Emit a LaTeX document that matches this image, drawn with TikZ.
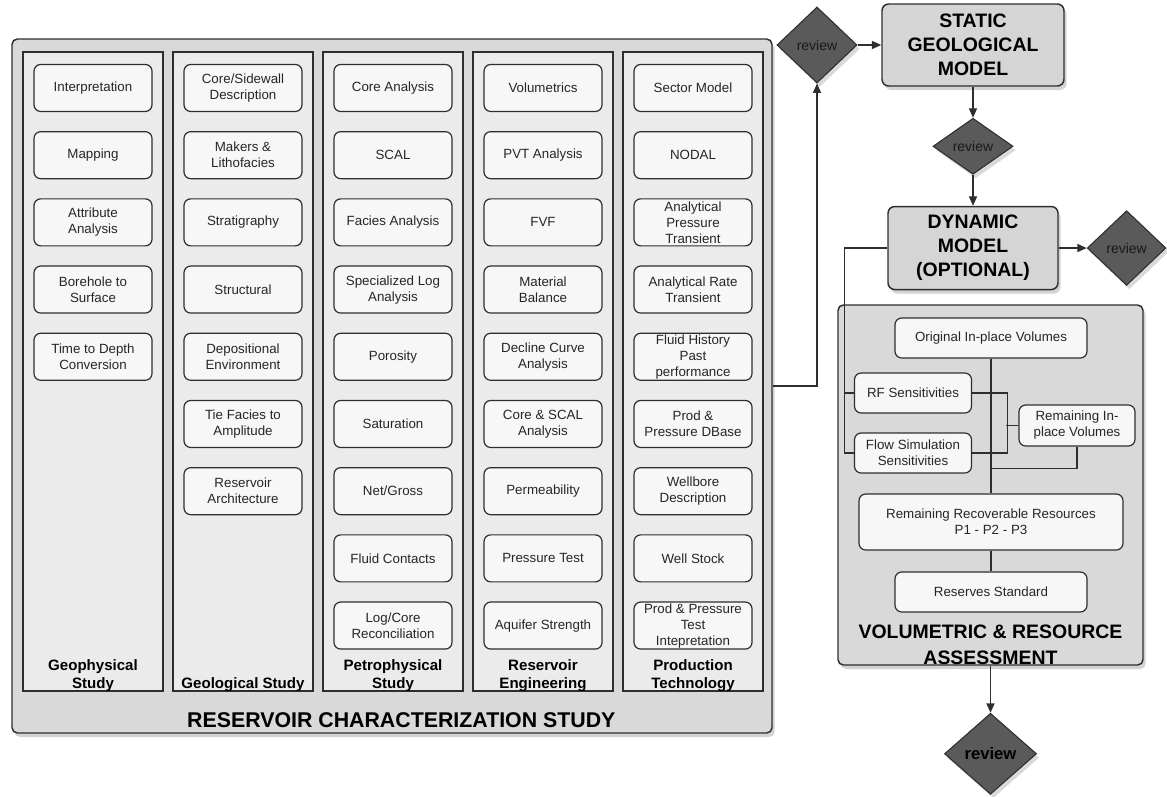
\documentclass[tikz,border=0pt]{standalone}
\usepackage{fontspec}
\setmainfont{Liberation Sans}
\usepackage{tikz}
\usetikzlibrary{arrows.meta, positioning, shapes.geometric, shadows}
\definecolor{contour}{HTML}{2E2E2E}
\definecolor{fondetude}{HTML}{D9D9D9}
\definecolor{fondcolonne}{HTML}{EBEBEB}
\definecolor{fondbloc}{HTML}{F7F7F7}
\definecolor{fondmodele}{HTML}{D5D5D5}
\definecolor{losange}{HTML}{5A5A5A}
\tikzset{
  cadre/.style={rectangle, rounded corners=4pt, draw=contour, line width=1.1pt,
    fill=fondetude, inner sep=0pt,
    drop shadow={opacity=0.35, shadow xshift=2pt, shadow yshift=-3pt}},
  colonne/.style={rectangle, draw=contour, line width=1pt, fill=fondcolonne,
    minimum width=105pt, minimum height=479.25pt, inner sep=0pt},
  bloc/.style={rectangle, rounded corners=5pt, draw=contour, line width=0.9pt,
    fill=fondbloc, text=black!85, font=\fontsize{10}{12}\selectfont,
    minimum width=88.5pt, minimum height=35.25pt, align=center,
    inner xsep=2pt, inner ysep=0pt},
  etiquette/.style={font=\fontsize{11.3}{13.5}\selectfont\bfseries,
    align=center, inner sep=0pt},
  titre/.style={font=\fontsize{14.6}{18}\selectfont\bfseries, align=center,
    inner sep=0pt},
  modele/.style={rectangle, rounded corners=5pt, draw=contour, line width=1.1pt,
    fill=fondmodele, titre,
    drop shadow={opacity=0.35, shadow xshift=2pt, shadow yshift=-3pt}},
  revue/.style={diamond, aspect=1, draw=contour, line width=0.8pt, fill=losange,
    text=black!90, font=\fontsize{10.5}{12}\selectfont, inner sep=0pt,
    drop shadow={opacity=0.3, shadow xshift=2pt, shadow yshift=-3pt}},
  fleche/.style={-{Triangle[length=7pt, width=6pt]}, line width=1pt, color=contour},
  ligne/.style={line width=1pt, color=contour},
}

\begin{document}
\begin{tikzpicture}[x=0.75pt, y=-0.75pt, node distance=14.25pt]
    \useasboundingbox (0,0) rectangle (1167,796);

    % etude de caracterisation
    \node[cadre, minimum width=570pt, minimum height=520.5pt] (etude) at (392,386) {};
    \node[titre, font=\fontsize{16}{18}\selectfont\bfseries, anchor=base]
      at ([xshift=7pt, yshift=4.5pt]etude.south) {RESERVOIR CHARACTERIZATION STUDY};

    \node[colonne] (geo) at (93,371.5) {};
    \node[colonne] (geol) at (243,371.5) {};
    \node[colonne] (petro) at (393,371.5) {};
    \node[colonne] (reseng) at (543,371.5) {};
    \node[colonne] (prodtech) at (693,371.5) {};

    \node[etiquette, anchor=south] at (geo.south) {Geophysical\\Study};
    \node[etiquette, anchor=south] at (geol.south) {Geological Study};
    \node[etiquette, anchor=south] at (petro.south) {Petrophysical\\Study};
    \node[etiquette, anchor=south] at (reseng.south) {Reservoir\\Engineering};
    \node[etiquette, anchor=south] at (prodtech.south) {Production\\Technology};

    % geophysique
    \node[bloc, below=9.4pt of geo.north] (interp) {Interpretation};
    \node[bloc, below=of interp] (mapping) {Mapping};
    \node[bloc, below=of mapping] (attrib) {Attribute\\Analysis};
    \node[bloc, below=of attrib] (borehole) {Borehole to\\Surface};
    \node[bloc, below=of borehole] (tdconv) {Time to Depth\\Conversion};

    % geologie
    \node[bloc, below=9.4pt of geol.north] (coredesc) {Core/Sidewall\\Description};
    \node[bloc, below=of coredesc] (makers) {Makers \&\\Lithofacies};
    \node[bloc, below=of makers] (strat) {Stratigraphy};
    \node[bloc, below=of strat] (struct) {Structural};
    \node[bloc, below=of struct] (depo) {Depositional\\Environment};
    \node[bloc, below=of depo] (tiefacies) {Tie Facies to\\Amplitude};
    \node[bloc, below=of tiefacies] (resarch) {Reservoir\\Architecture};

    % petrophysique
    \node[bloc, below=9.4pt of petro.north] (corean) {Core Analysis};
    \node[bloc, below=of corean] (scal) {SCAL};
    \node[bloc, below=of scal] (faciesan) {Facies Analysis};
    \node[bloc, below=of faciesan] (speclog) {Specialized Log\\Analysis};
    \node[bloc, below=of speclog] (poro) {Porosity};
    \node[bloc, below=of poro] (satur) {Saturation};
    \node[bloc, below=of satur] (netgross) {Net/Gross};
    \node[bloc, below=of netgross] (contacts) {Fluid Contacts};
    \node[bloc, below=of contacts] (logcore) {Log/Core\\Reconciliation};

    % ingenierie de reservoir
    \node[bloc, below=9.4pt of reseng.north] (volumes) {Volumetrics};
    \node[bloc, below=of volumes] (pvt) {PVT Analysis};
    \node[bloc, below=of pvt] (fvf) {FVF};
    \node[bloc, below=of fvf] (matbal) {Material\\Balance};
    \node[bloc, below=of matbal] (decline) {Decline Curve\\Analysis};
    \node[bloc, below=of decline] (corescal) {Core \& SCAL\\Analysis};
    \node[bloc, below=of corescal] (perm) {Permeability};
    \node[bloc, below=of perm] (prestest) {Pressure Test};
    \node[bloc, below=of prestest] (aquifer) {Aquifer Strength};

    % technologie de production
    \node[bloc, below=9.4pt of prodtech.north] (sector) {Sector Model};
    \node[bloc, below=of sector] (nodal) {NODAL};
    \node[bloc, below=of nodal] (aptrans) {Analytical\\Pressure\\Transient};
    \node[bloc, below=of aptrans] (artrans) {Analytical Rate\\Transient};
    \node[bloc, below=of artrans] (history) {Fluid History\\Past\\performance};
    \node[bloc, below=of history] (proddb) {Prod \&\\Pressure DBase};
    \node[bloc, below=of proddb] (wellbore) {Wellbore\\Description};
    \node[bloc, below=of wellbore] (wellstock) {Well Stock};
    \node[bloc, below=of wellstock] (prodtest) {Prod \& Pressure\\Test\\Intepretation};

    % modeles et revues
    \node[revue, minimum width=60pt, minimum height=57pt] (revue1) at (817,45) {review};
    \node[modele, minimum width=136.5pt, minimum height=61.5pt] (statique) at (973,45)
      {STATIC\\GEOLOGICAL\\MODEL};
    \node[revue, minimum width=60pt, minimum height=42pt, below=23.25pt of statique]
      (revue2) {review};
    \node[modele, minimum width=127.5pt, minimum height=62.25pt, below=23.25pt of revue2]
      (dynamique) {DYNAMIC\\MODEL\\(OPTIONAL)};
    \node[revue, minimum width=59pt, minimum height=56pt, right=21pt of dynamique]
      (revue3) {review};

    % evaluation volumetrique
    \node[cadre, minimum width=228.75pt, minimum height=270pt] (volum) at (990.5,485) {};
    \node[titre, font=\fontsize{14.6}{19.5}\selectfont\bfseries] at (990.5,645)
      {VOLUMETRIC \& RESOURCE\\ASSESSMENT};
    \node[bloc, minimum width=144pt, minimum height=30pt] (orig) at (991,338)
      {Original In-place Volumes};
    \node[bloc, minimum width=87.75pt, minimum height=30pt] (rfsens) at (913,393)
      {RF Sensitivities};
    \node[bloc, minimum width=87.75pt, minimum height=30pt] (flowsim) at (913,453)
      {Flow Simulation\\Sensitivities};
    \node[bloc, minimum width=87pt, minimum height=30.75pt] (restant) at (1077,425.5)
      {Remaining In-\\place Volumes};
    \node[bloc, minimum width=198pt, minimum height=42pt] (recup) at (991,522)
      {Remaining Recoverable Resources\\P1 - P2 - P3};
    \node[bloc, minimum width=144pt, minimum height=30pt] (reserves) at (991,592)
      {Reserves Standard};
    \node[revue, text=black, font=\fontsize{12.5}{14}\selectfont\bfseries,
      minimum width=69pt, minimum height=60.75pt, below=35.25pt of volum] (revue4) {review};

    \coordinate (bus) at ([xshift=-7pt]rfsens.west);

    \draw[fleche] (etude.east) -| (revue1.south);
    \draw[fleche] (revue1) -- (statique);
    \draw[fleche] (statique) -- (revue2);
    \draw[fleche] (revue2) -- (dynamique);
    \draw[fleche] (dynamique) -- (revue3);
    \draw[ligne] (dynamique.west) -| (bus) |- (flowsim.west);
    \draw[ligne] (bus) -- (rfsens.west);
    \draw[ligne] (orig) -- (recup);
    \draw[ligne] (rfsens.east) -- ++(35.5,0) |- (flowsim.east);
    \draw[ligne] (restant.west) -- ++(-12,0);
    \draw[ligne] (restant.south) -- ++(0,22) -| (orig.south);
    \draw[ligne] (recup) -- (reserves);
    \draw[fleche] (volum.south) -- (revue4.north);
\end{tikzpicture}
\end{document}
